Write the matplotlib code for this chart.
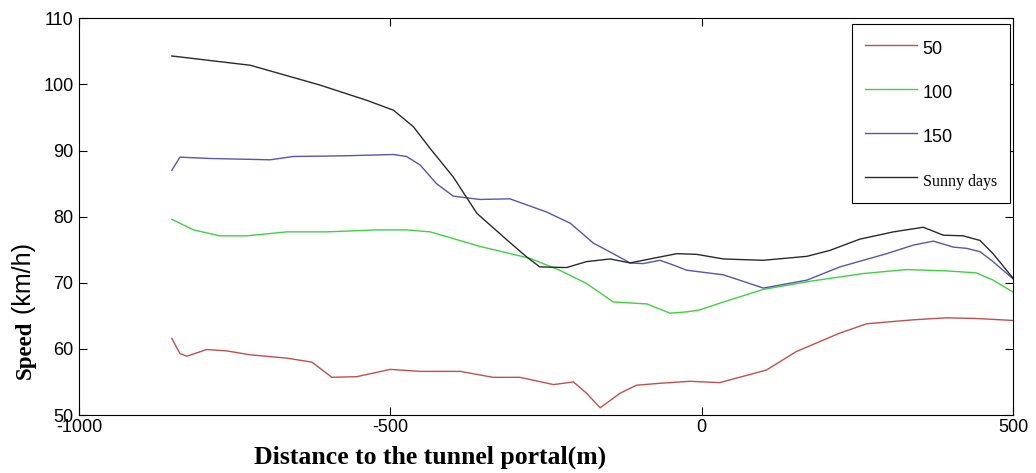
"""
Speed profiles approaching the tunnel portal (visibility 50/100/150 m vs sunny days).
"""

import matplotlib
matplotlib.use("Agg")
import matplotlib.pyplot as plt
from matplotlib.lines import Line2D

plt.rcParams["axes.unicode_minus"] = False

# ── Data ──────────────────────────────────────────────────────────────────────
X_50 = [-851, -838, -827, -795, -763, -725, -666, -626, -594, -554, -500, -452,
        -388, -335, -292, -238, -206, -185, -163, -131, -105, -67, -19, 29,
        104, 152, 222, 265, 340, 393, 441, 500]
V_50 = [61.6, 59.3, 58.9, 59.9, 59.7, 59.1, 58.6, 58.0, 55.7, 55.8, 56.9, 56.6,
        56.6, 55.7, 55.7, 54.6, 55.0, 53.3, 51.1, 53.3, 54.5, 54.8, 55.1, 54.9,
        56.8, 59.6, 62.4, 63.8, 64.4, 64.7, 64.6, 64.3]

X_100 = [-851, -816, -774, -731, -666, -602, -522, -474, -436, -356, -276, -228,
         -185, -142, -88, -51, -24, -3, 35, 99, 179, 260, 329, 393, 441, 468,
         500]
V_100 = [79.6, 78.0, 77.1, 77.1, 77.7, 77.7, 78.0, 78.0, 77.7, 75.5, 73.7, 71.9,
         69.9, 67.1, 66.8, 65.4, 65.6, 65.9, 67.1, 69.0, 70.3, 71.4, 72.0, 71.8,
         71.5, 70.4, 68.6]

X_150 = [-851, -838, -790, -693, -656, -576, -495, -474, -452, -426, -399, -356,
         -308, -249, -211, -174, -142, -115, -94, -67, -46, -24, 35, 99, 169,
         222, 297, 340, 372, 404, 426, 447, 468, 500]
V_150 = [87.0, 89.0, 88.8, 88.6, 89.1, 89.2, 89.4, 89.1, 87.8, 85.0, 83.1, 82.6,
         82.7, 80.7, 79.0, 76.0, 74.4, 73.0, 72.9, 73.4, 72.7, 71.9, 71.2, 69.2,
         70.4, 72.4, 74.4, 75.7, 76.3, 75.4, 75.2, 74.7, 73.2, 70.6]

X_SUNNY = [-851, -725, -613, -538, -495, -463, -436, -399, -361, -313, -281,
           -260, -217, -185, -147, -115, -78, -40, -8, 35, 99, 169, 206, 254,
           308, 356, 388, 420, 447, 468, 500]
V_SUNNY = [104.3, 102.9, 99.9, 97.6, 96.1, 93.6, 90.3, 86.0, 80.5, 76.5, 73.9,
           72.4, 72.3, 73.2, 73.6, 73.0, 73.7, 74.4, 74.3, 73.6, 73.4, 74.0,
           74.9, 76.6, 77.7, 78.4, 77.2, 77.1, 76.4, 74.4, 70.7]

LABELS = ["50", "100", "150", "Sunny days"]
COLORS = ["#c0504d", "#3fd23f", "#5656aa", "#2a2a2a"]

X_TICKS = [-1000, -500, 0, 500]
Y_TICKS = [50, 60, 70, 80, 90, 100, 110]


def main() -> None:
    fig = plt.figure(figsize=(10.36, 4.73), dpi=100)
    ax = fig.add_axes([0.0763, 0.1226, 0.9015, 0.8387])

    series = [(X_50, V_50), (X_100, V_100), (X_150, V_150), (X_SUNNY, V_SUNNY)]
    for (xs, vs), color in zip(series, COLORS):
        ax.plot(xs, vs, color=color, linewidth=1.0)

    ax.set_xlim(-1000, 500)
    ax.set_ylim(50, 110)
    ax.set_xticks(X_TICKS)
    ax.set_yticks(Y_TICKS)
    ax.tick_params(direction="in", length=6, width=0.8, top=True, right=True,
                   labelsize=13)
    ax.tick_params(axis="y", pad=4)
    ax.tick_params(axis="x", pad=3)
    for lab in ax.get_xticklabels() + ax.get_yticklabels():
        lab.set_fontfamily("Liberation Sans")
    for sp in ax.spines.values():
        sp.set_linewidth(0.8)

    handles = [Line2D([], [], color=c, linewidth=1.0) for c in COLORS]
    leg = ax.legend(handles, LABELS, loc="upper right",
                    bbox_to_anchor=(0.9968, 0.9856), borderaxespad=0,
                    fancybox=False, framealpha=1, edgecolor="black",
                    prop={"family": "Liberation Sans", "size": 13},
                    handlelength=2.9, handleheight=1.45, handletextpad=0.3,
                    labelspacing=1.25, borderpad=0.72)
    leg.get_frame().set_linewidth(0.8)
    sunny = leg.get_texts()[-1]
    sunny.set_fontfamily("Liberation Serif")
    sunny.set_fontsize(11.5)

    # x label (sits left of centre in the original)
    fig.text(430 / 1036, 1 - 464 / 473, "Distance to the tunnel portal(m)",
             ha="center", va="baseline", fontsize=18.5, fontweight="bold",
             family="Liberation Serif")

    # y label: "Speed" in bold serif followed by the bracketed unit in sans
    t1 = fig.text(31 / 1036, 1 - 379 / 473, "Speed", rotation=90,
                  rotation_mode="anchor", ha="left", va="baseline",
                  fontsize=16.5, fontweight="bold", family="Liberation Serif")
    fig.canvas.draw()
    bb = t1.get_window_extent().transformed(fig.transFigure.inverted())
    fig.text(31 / 1036, bb.y1, " (km/h) ", rotation=90,
             rotation_mode="anchor", ha="left", va="baseline", fontsize=18,
             family="Liberation Sans")

    fig.savefig("out.png", dpi=100)
    plt.close(fig)


if __name__ == "__main__":
    main()
